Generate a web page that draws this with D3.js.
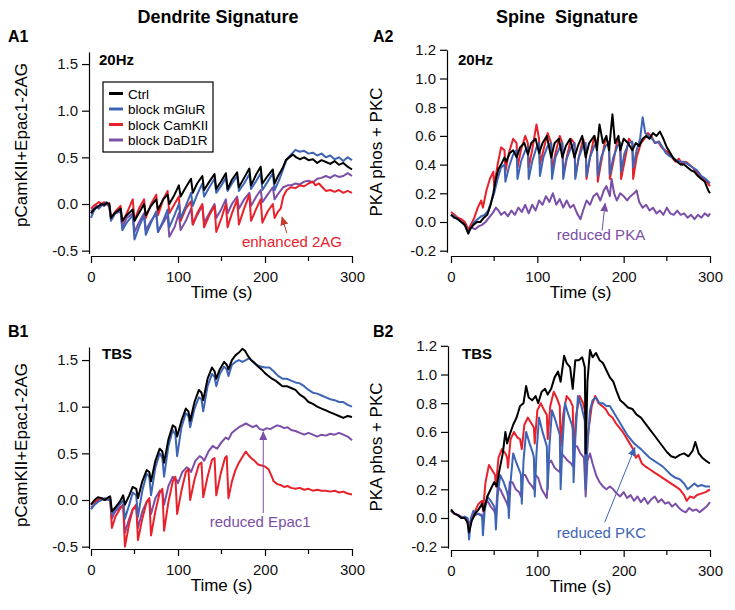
<!DOCTYPE html>
<html><head><meta charset="utf-8">
<script src="https://cdn.jsdelivr.net/npm/d3@7"></script>
<style>
body{margin:0;background:#fff}
svg text{font-family:"Liberation Sans",Arial,Helvetica,sans-serif}
</style>
</head><body>
<svg id="chart" width="735" height="610"></svg>
<script>
// ---------------- DATA ----------------
const seriesNames = ["Ctrl", "block mGluR", "block CamKII", "block DaD1R"];
const timeTicks = [0, 100, 200, 300];
const timeMinorTicks = [50, 150, 250];
const dendriteTicks = [-0.5, 0.0, 0.5, 1.0, 1.5];
const spineTicks = [-0.2, 0.0, 0.2, 0.4, 0.6, 0.8, 1.0, 1.2];

// A1: 20Hz dendrite signature  [time s, value]
const a1Ctrl = [[0,-0.1],[3,-0.06],[6,-0.04],[9,-0.02],[12,0.0],[15,-0.01],[18,0.01],[21,0.0],[23,-0.15],[27,-0.1],[34,-0.05],[36,-0.18],[41,-0.12],[48,-0.06],[50,-0.18],[55,-0.1],[61,0.0],[63,-0.12],[69,-0.02],[75,0.05],[77,-0.06],[83,0.05],[88,0.1],[90,0.0],[96,0.1],[101,0.2],[103,0.08],[109,0.18],[115,0.27],[117,0.12],[122,0.22],[128,0.3],[130,0.15],[136,0.24],[142,0.32],[144,0.16],[150,0.25],[155,0.33],[157,0.16],[162,0.26],[168,0.34],[170,0.18],[176,0.28],[182,0.38],[184,0.2],[190,0.32],[195,0.4],[197,0.22],[203,0.3],[209,0.37],[211,0.22],[215,0.3],[220,0.38],[224,0.47],[228,0.5],[232,0.53],[236,0.5],[240,0.48],[245,0.5],[250,0.47],[255,0.48],[260,0.44],[265,0.47],[270,0.45],[275,0.43],[280,0.46],[285,0.42],[290,0.44],[295,0.4],[300,0.37]];
const a1Mglur = [[0,-0.15],[3,-0.08],[6,-0.03],[9,-0.05],[12,-0.02],[15,0.0],[18,0.02],[21,-0.02],[23,-0.18],[28,-0.1],[34,-0.06],[36,-0.28],[41,-0.2],[48,-0.12],[50,-0.38],[55,-0.25],[61,-0.12],[63,-0.33],[69,-0.2],[75,-0.08],[77,-0.3],[83,-0.18],[88,-0.06],[90,-0.25],[96,-0.12],[101,0.0],[103,-0.15],[109,-0.02],[115,0.12],[117,-0.02],[122,0.1],[128,0.22],[130,0.08],[136,0.18],[142,0.27],[144,0.12],[150,0.2],[155,0.28],[157,0.14],[162,0.22],[168,0.3],[170,0.14],[176,0.22],[182,0.32],[184,0.16],[190,0.25],[195,0.33],[197,0.15],[203,0.24],[209,0.33],[211,0.15],[216,0.25],[221,0.38],[225,0.48],[230,0.53],[235,0.58],[240,0.56],[245,0.57],[250,0.54],[255,0.55],[260,0.52],[265,0.54],[270,0.5],[275,0.52],[280,0.48],[285,0.5],[290,0.46],[295,0.5],[300,0.47]];
const a1Camkii = [[0,-0.05],[3,-0.02],[6,0.0],[9,0.02],[12,0.0],[15,0.02],[18,0.0],[21,0.01],[23,-0.15],[28,-0.08],[34,-0.02],[36,-0.2],[41,-0.1],[48,0.05],[50,-0.18],[55,-0.05],[61,0.05],[63,-0.15],[69,0.0],[75,0.1],[77,-0.12],[83,0.05],[88,0.14],[90,-0.1],[96,0.0],[101,0.08],[103,-0.18],[109,-0.05],[115,0.03],[117,-0.22],[122,-0.1],[128,0.0],[130,-0.25],[136,-0.12],[142,-0.02],[144,-0.3],[150,-0.15],[155,0.0],[157,-0.25],[162,-0.1],[168,0.05],[170,-0.22],[176,-0.05],[182,0.1],[184,-0.18],[190,-0.05],[195,0.05],[197,-0.2],[203,-0.08],[209,0.0],[211,-0.15],[215,-0.08],[218,-0.05],[221,0.08],[225,0.15],[230,0.18],[235,0.17],[240,0.2],[245,0.19],[250,0.22],[255,0.24],[258,0.2],[262,0.22],[266,0.18],[270,0.14],[275,0.15],[280,0.13],[285,0.15],[290,0.12],[295,0.14],[300,0.12]];
const a1D1r = [[0,-0.08],[3,-0.05],[6,-0.02],[9,-0.04],[12,0.0],[15,-0.02],[18,0.0],[21,-0.03],[23,-0.15],[28,-0.1],[34,-0.08],[36,-0.25],[41,-0.15],[48,-0.1],[50,-0.3],[55,-0.2],[61,-0.1],[63,-0.28],[69,-0.18],[75,-0.1],[77,-0.3],[83,-0.2],[88,-0.12],[90,-0.35],[96,-0.25],[101,-0.1],[103,-0.28],[109,-0.18],[115,-0.05],[117,-0.22],[122,-0.12],[128,-0.02],[130,-0.2],[136,-0.1],[142,0.0],[144,-0.15],[150,-0.05],[155,0.05],[157,-0.1],[162,0.0],[168,0.08],[170,-0.05],[176,0.05],[182,0.12],[184,-0.02],[190,0.08],[195,0.15],[197,0.02],[203,0.1],[209,0.18],[211,0.05],[216,0.12],[221,0.18],[226,0.2],[230,0.2],[235,0.22],[240,0.21],[245,0.24],[250,0.25],[255,0.23],[260,0.27],[265,0.28],[270,0.3],[275,0.28],[280,0.31],[285,0.29],[290,0.3],[295,0.33],[300,0.3]];

// A2: 20Hz spine signature
const a2Ctrl = [[0,0.05],[4,0.03],[8,0.02],[12,0.0],[16,-0.02],[20,-0.08],[22,-0.05],[26,-0.02],[30,0.0],[34,0.0],[38,0.03],[42,0.05],[46,0.12],[49,0.2],[52,0.3],[55,0.37],[58,0.4],[62,0.45],[64,0.42],[68,0.48],[72,0.5],[76,0.45],[80,0.52],[85,0.55],[89,0.47],[93,0.55],[98,0.58],[102,0.48],[106,0.55],[111,0.6],[116,0.45],[120,0.55],[125,0.58],[129,0.45],[133,0.53],[138,0.58],[143,0.45],[147,0.53],[152,0.6],[156,0.45],[160,0.55],[166,0.6],[169,0.5],[172,0.68],[176,0.55],[180,0.6],[183,0.5],[187,0.75],[190,0.55],[194,0.6],[196,0.5],[200,0.58],[205,0.55],[210,0.5],[214,0.55],[218,0.53],[222,0.58],[226,0.6],[230,0.58],[234,0.62],[238,0.6],[242,0.63],[246,0.58],[250,0.52],[254,0.48],[258,0.44],[262,0.42],[266,0.4],[270,0.4],[274,0.38],[278,0.36],[282,0.35],[286,0.32],[290,0.3],[294,0.28],[298,0.22],[300,0.2]];
const a2Mglur = [[0,0.05],[4,0.04],[8,0.02],[12,0.0],[16,-0.02],[20,-0.08],[23,-0.04],[27,0.0],[31,0.02],[35,0.04],[39,0.05],[43,0.08],[47,0.15],[50,0.2],[54,0.3],[58,0.38],[62,0.4],[63,0.28],[67,0.38],[72,0.47],[76,0.5],[77,0.3],[81,0.42],[86,0.5],[89,0.52],[90,0.3],[94,0.42],[99,0.52],[102,0.55],[103,0.32],[107,0.45],[112,0.53],[116,0.55],[117,0.3],[121,0.45],[126,0.52],[129,0.55],[130,0.3],[134,0.44],[139,0.52],[143,0.55],[144,0.3],[148,0.45],[153,0.53],[156,0.55],[157,0.32],[161,0.45],[166,0.53],[169,0.55],[170,0.32],[174,0.45],[179,0.53],[183,0.55],[184,0.33],[188,0.45],[193,0.53],[196,0.55],[197,0.35],[201,0.48],[206,0.55],[210,0.56],[211,0.38],[215,0.5],[219,0.58],[222,0.73],[225,0.62],[229,0.6],[233,0.58],[237,0.55],[241,0.56],[245,0.52],[249,0.48],[253,0.46],[257,0.45],[261,0.43],[265,0.42],[270,0.42],[275,0.4],[280,0.38],[285,0.36],[290,0.32],[295,0.3],[300,0.27]];
const a2Camkii = [[0,0.07],[4,0.05],[8,0.03],[12,0.02],[16,0.0],[20,-0.05],[23,-0.02],[27,0.03],[31,0.1],[35,0.15],[37,0.1],[41,0.22],[45,0.3],[49,0.35],[50,0.25],[54,0.4],[58,0.52],[62,0.5],[63,0.35],[67,0.48],[72,0.58],[76,0.55],[77,0.38],[81,0.5],[86,0.6],[89,0.55],[90,0.38],[94,0.5],[99,0.68],[102,0.58],[103,0.4],[107,0.5],[112,0.62],[116,0.55],[117,0.35],[121,0.48],[126,0.6],[129,0.55],[130,0.33],[134,0.45],[139,0.58],[143,0.55],[144,0.32],[148,0.45],[153,0.58],[156,0.52],[157,0.3],[161,0.45],[166,0.6],[169,0.55],[170,0.28],[174,0.42],[179,0.58],[183,0.55],[184,0.3],[188,0.42],[193,0.58],[196,0.55],[197,0.3],[201,0.42],[206,0.58],[210,0.55],[211,0.3],[215,0.45],[220,0.55],[224,0.58],[228,0.62],[232,0.6],[236,0.55],[240,0.56],[244,0.52],[248,0.5],[252,0.48],[256,0.45],[260,0.42],[264,0.44],[268,0.4],[272,0.42],[276,0.4],[280,0.38],[284,0.35],[288,0.32],[292,0.3],[296,0.28],[300,0.25]];
const a2D1r = [[0,0.05],[4,0.03],[8,0.02],[12,0.0],[16,-0.02],[20,-0.05],[24,-0.04],[28,-0.05],[32,-0.03],[36,-0.02],[40,0.0],[44,0.03],[48,0.06],[52,0.1],[55,0.08],[58,0.05],[62,0.07],[66,0.04],[70,0.08],[74,0.05],[78,0.1],[82,0.07],[86,0.12],[90,0.06],[94,0.12],[98,0.08],[102,0.15],[106,0.12],[110,0.18],[114,0.14],[118,0.2],[122,0.12],[126,0.16],[130,0.1],[134,0.15],[138,0.1],[142,0.12],[146,0.06],[150,0.02],[153,0.08],[157,0.15],[161,0.12],[165,0.18],[169,0.2],[173,0.15],[177,0.22],[180,0.25],[184,0.18],[186,0.3],[189,0.2],[192,0.15],[196,0.2],[200,0.18],[204,0.15],[208,0.18],[212,0.2],[215,0.22],[218,0.14],[222,0.1],[226,0.12],[230,0.08],[234,0.1],[238,0.06],[242,0.08],[246,0.05],[250,0.1],[254,0.06],[258,0.05],[262,0.08],[266,0.05],[270,0.06],[274,0.03],[278,0.05],[282,0.02],[286,0.05],[290,0.03],[294,0.06],[298,0.04],[300,0.06]];

// B1: TBS dendrite signature
const b1Ctrl = [[0,-0.05],[4,0.0],[8,0.03],[12,0.02],[16,0.0],[20,0.03],[22,0.04],[24,-0.12],[28,-0.08],[33,-0.02],[37,0.05],[39,-0.05],[44,0.05],[48,0.14],[52,0.12],[54,0.02],[59,0.2],[64,0.32],[67,0.3],[69,0.2],[74,0.42],[79,0.55],[82,0.52],[84,0.4],[89,0.65],[94,0.8],[97,0.78],[99,0.68],[104,0.85],[109,0.98],[112,0.95],[114,0.85],[119,1.05],[124,1.18],[127,1.15],[129,1.07],[134,1.3],[139,1.42],[142,1.38],[144,1.3],[148,1.4],[153,1.48],[156,1.45],[158,1.4],[162,1.5],[166,1.55],[170,1.58],[174,1.62],[177,1.6],[180,1.55],[184,1.5],[188,1.47],[192,1.43],[196,1.4],[200,1.36],[204,1.33],[208,1.3],[212,1.28],[216,1.25],[220,1.22],[225,1.22],[230,1.2],[235,1.18],[240,1.13],[245,1.1],[250,1.05],[255,1.03],[260,1.0],[265,0.98],[270,0.96],[275,0.94],[280,0.92],[285,0.9],[290,0.88],[295,0.9],[300,0.89]];
const b1Mglur = [[0,-0.1],[4,-0.05],[8,-0.02],[12,0.0],[16,0.02],[20,0.0],[22,0.02],[24,-0.15],[28,-0.1],[33,-0.05],[37,0.0],[39,-0.2],[44,-0.05],[48,0.08],[52,0.05],[54,-0.18],[59,0.1],[64,0.28],[67,0.25],[69,0.05],[74,0.35],[79,0.5],[82,0.45],[84,0.25],[89,0.58],[94,0.75],[97,0.7],[99,0.47],[104,0.78],[109,0.93],[112,0.9],[114,0.78],[119,0.98],[124,1.1],[127,1.08],[129,0.95],[134,1.22],[139,1.35],[142,1.32],[144,1.22],[148,1.35],[153,1.43],[156,1.4],[158,1.33],[162,1.45],[166,1.48],[170,1.5],[174,1.48],[178,1.5],[182,1.52],[186,1.48],[190,1.45],[195,1.43],[200,1.42],[205,1.42],[210,1.38],[215,1.33],[220,1.3],[225,1.3],[230,1.28],[235,1.26],[240,1.25],[245,1.22],[250,1.18],[255,1.15],[260,1.14],[265,1.12],[270,1.1],[275,1.08],[280,1.07],[285,1.05],[290,1.05],[295,1.02],[300,1.0]];
const b1Camkii = [[0,-0.05],[4,-0.02],[8,0.0],[12,0.02],[16,0.0],[20,0.02],[22,0.03],[24,-0.3],[28,-0.18],[33,-0.1],[37,-0.05],[39,-0.5],[44,-0.25],[48,-0.1],[52,-0.05],[54,-0.43],[59,-0.2],[64,-0.02],[67,0.02],[69,-0.38],[74,-0.12],[79,0.08],[82,0.12],[84,-0.33],[89,-0.02],[94,0.2],[97,0.25],[99,-0.15],[104,0.1],[109,0.3],[112,0.33],[114,0.0],[119,0.22],[124,0.38],[127,0.4],[129,0.03],[134,0.25],[139,0.43],[142,0.45],[144,0.05],[149,0.28],[154,0.45],[156,0.47],[158,0.02],[162,0.2],[166,0.32],[170,0.4],[174,0.46],[178,0.52],[181,0.48],[184,0.45],[188,0.42],[192,0.38],[196,0.37],[200,0.36],[204,0.33],[207,0.27],[210,0.2],[214,0.17],[218,0.16],[222,0.14],[226,0.15],[230,0.13],[235,0.12],[240,0.13],[245,0.11],[250,0.12],[255,0.1],[260,0.11],[265,0.1],[270,0.1],[275,0.09],[280,0.1],[285,0.08],[290,0.09],[295,0.07],[300,0.06]];
const b1D1r = [[0,-0.08],[4,-0.05],[8,0.0],[12,0.02],[16,0.0],[20,0.02],[22,0.0],[24,-0.2],[28,-0.12],[33,-0.08],[37,-0.05],[39,-0.35],[44,-0.2],[48,-0.1],[52,-0.08],[54,-0.3],[59,-0.12],[64,-0.02],[67,0.0],[69,-0.15],[74,0.02],[79,0.1],[82,0.08],[84,-0.05],[89,0.15],[94,0.25],[98,0.22],[100,0.18],[105,0.3],[110,0.35],[113,0.33],[115,0.3],[120,0.42],[125,0.47],[128,0.45],[130,0.42],[135,0.52],[140,0.58],[143,0.56],[145,0.55],[150,0.62],[155,0.67],[158,0.65],[162,0.72],[166,0.75],[170,0.78],[174,0.8],[178,0.82],[182,0.8],[186,0.78],[190,0.8],[194,0.76],[198,0.75],[202,0.77],[206,0.76],[210,0.78],[214,0.8],[218,0.79],[222,0.77],[226,0.78],[230,0.75],[235,0.74],[240,0.72],[245,0.7],[250,0.72],[255,0.7],[260,0.68],[265,0.7],[270,0.69],[275,0.71],[280,0.7],[285,0.72],[290,0.7],[295,0.68],[300,0.64]];

// B2: TBS spine signature
const b2Ctrl = [[0,0.06],[4,0.03],[8,0.02],[12,0.0],[16,0.0],[19,-0.03],[21,-0.1],[24,-0.02],[28,0.03],[32,0.06],[36,0.1],[38,0.05],[42,0.15],[46,0.2],[50,0.25],[53,0.22],[56,0.33],[60,0.45],[63,0.6],[65,0.52],[68,0.58],[72,0.65],[76,0.7],[80,0.78],[84,0.8],[87,0.92],[90,0.84],[94,0.82],[98,0.85],[101,0.8],[105,0.88],[109,0.9],[112,0.86],[116,0.9],[120,0.98],[124,1.02],[127,0.95],[131,1.13],[134,1.08],[138,1.05],[141,0.9],[144,1.1],[148,1.1],[152,1.12],[155,1.05],[156,0.45],[158,0.95],[161,1.17],[164,1.12],[168,1.15],[172,1.1],[176,1.08],[180,1.03],[184,0.98],[188,0.95],[192,0.88],[196,0.82],[200,0.8],[205,0.77],[210,0.76],[215,0.72],[220,0.7],[225,0.66],[230,0.62],[235,0.58],[240,0.54],[245,0.5],[250,0.46],[255,0.43],[260,0.42],[265,0.44],[270,0.45],[275,0.43],[280,0.47],[283,0.53],[287,0.45],[291,0.42],[295,0.4],[300,0.38]];
const b2Mglur = [[0,0.05],[4,0.03],[8,0.02],[12,0.0],[16,0.01],[19,0.0],[21,-0.15],[23,0.0],[26,0.05],[30,0.03],[34,0.02],[36,0.01],[37,-0.12],[39,0.05],[42,0.15],[46,0.12],[50,0.08],[51,0.06],[52,-0.08],[54,0.15],[57,0.3],[61,0.25],[65,0.18],[66,0.15],[67,0.0],[69,0.25],[72,0.45],[76,0.38],[80,0.32],[81,0.3],[82,0.1],[84,0.4],[87,0.6],[91,0.52],[95,0.45],[96,0.42],[97,0.15],[99,0.45],[102,0.7],[106,0.6],[110,0.52],[111,0.5],[112,0.2],[114,0.5],[117,0.75],[121,0.68],[125,0.6],[126,0.58],[127,0.2],[129,0.5],[132,0.8],[136,0.72],[140,0.65],[141,0.62],[142,0.25],[144,0.55],[147,0.85],[151,0.78],[154,0.7],[155,0.68],[156,0.2],[158,0.5],[161,0.75],[164,0.82],[168,0.84],[172,0.8],[176,0.8],[180,0.78],[184,0.78],[188,0.74],[192,0.7],[196,0.66],[200,0.62],[204,0.58],[208,0.55],[212,0.52],[216,0.5],[220,0.48],[225,0.45],[230,0.42],[235,0.4],[240,0.38],[245,0.36],[250,0.33],[255,0.3],[260,0.28],[265,0.27],[270,0.24],[274,0.2],[278,0.22],[282,0.24],[286,0.22],[290,0.23],[295,0.22],[300,0.22]];
const b2Camkii = [[0,0.05],[4,0.03],[8,0.02],[12,0.0],[16,0.0],[19,-0.02],[21,-0.08],[24,0.0],[28,0.05],[32,0.1],[36,0.12],[37,0.05],[40,0.25],[44,0.37],[48,0.33],[51,0.3],[52,0.22],[55,0.42],[59,0.48],[63,0.45],[65,0.42],[66,0.35],[69,0.55],[73,0.6],[77,0.56],[80,0.55],[82,0.48],[85,0.65],[89,0.7],[93,0.66],[96,0.63],[97,0.52],[100,0.75],[104,0.8],[108,0.75],[111,0.72],[112,0.55],[115,0.78],[119,0.88],[123,0.83],[126,0.78],[127,0.5],[130,0.72],[134,0.85],[138,0.82],[141,0.78],[142,0.45],[145,0.72],[149,0.85],[153,0.8],[155,0.75],[156,0.3],[159,0.6],[163,0.78],[167,0.85],[171,0.8],[175,0.78],[179,0.76],[183,0.72],[187,0.7],[191,0.66],[195,0.63],[199,0.6],[203,0.56],[207,0.52],[211,0.48],[214,0.42],[217,0.44],[221,0.38],[225,0.36],[230,0.34],[235,0.32],[240,0.3],[245,0.28],[250,0.26],[255,0.24],[260,0.22],[265,0.2],[270,0.16],[273,0.12],[277,0.15],[281,0.14],[285,0.16],[290,0.17],[295,0.18],[300,0.2]];
const b2D1r = [[0,0.05],[4,0.03],[8,0.02],[12,0.01],[16,0.0],[19,0.0],[21,-0.05],[24,0.0],[28,0.02],[32,0.03],[36,0.02],[37,-0.02],[39,0.1],[42,0.12],[46,0.08],[50,0.05],[52,0.02],[54,0.22],[57,0.2],[61,0.15],[65,0.1],[66,0.08],[68,0.25],[71,0.25],[75,0.2],[79,0.18],[81,0.15],[83,0.3],[86,0.3],[90,0.25],[94,0.22],[96,0.2],[98,0.3],[101,0.28],[105,0.2],[109,0.16],[111,0.14],[113,0.38],[116,0.4],[120,0.35],[124,0.33],[126,0.32],[128,0.45],[131,0.43],[135,0.4],[139,0.38],[141,0.36],[143,0.5],[146,0.5],[150,0.45],[154,0.42],[156,0.15],[158,0.4],[161,0.45],[164,0.38],[168,0.3],[172,0.25],[176,0.22],[180,0.2],[184,0.22],[188,0.2],[192,0.17],[196,0.15],[200,0.18],[204,0.14],[208,0.16],[212,0.12],[216,0.15],[220,0.11],[224,0.14],[228,0.1],[232,0.13],[236,0.15],[240,0.11],[244,0.13],[248,0.1],[252,0.11],[256,0.08],[260,0.1],[264,0.07],[268,0.05],[272,0.04],[276,0.07],[280,0.05],[284,0.06],[288,0.04],[292,0.06],[296,0.08],[300,0.11]];

// ---------------- STYLE / LAYOUT ----------------
const colors = {ctrl:"#000000", mglur:"#3e64b6", camkii:"#e8212b", d1r:"#7b4ea7"};
const svg = d3.select("#chart");
const FONT = "'Liberation Sans', Arial, sans-serif";

svg.append("text").attr("x",218).attr("y",23).attr("text-anchor","middle")
  .attr("font-size",18).attr("font-weight","bold").text("Dendrite Signature");
svg.append("text").attr("x",567).attr("y",23).attr("text-anchor","middle")
  .attr("font-size",18).attr("font-weight","bold").style("white-space","pre").text("Spine  Signature");

const panels = [
  {id:"A1", stim:"20Hz", x0:91, x1:352, xAxisY:256, yAxisX:89, zeroY:204, unit:93.3, ybot:-0.53, ytop:1.63, ticks:dendriteTicks,
   ylabel:"pCamKII+Epac1-2AG", ylabX:27, ylabY:145, labX:8, labY:42, stimX:99, stimY:65,
   series:{d1r:a1D1r, camkii:a1Camkii, mglur:a1Mglur, ctrl:a1Ctrl},
   note:{text:"enhanced 2AG", color:colors.camkii, arrowColor:"#c0392b", tx:173.5, ty:-0.465, from:[225,-0.31], to:[219.5,-0.14]}},
  {id:"A2", stim:"20Hz", x0:451, x1:710, xAxisY:256, yAxisX:447, zeroY:222, unit:143.5, ybot:-0.21, ytop:1.2, ticks:spineTicks,
   ylabel:"PKA phos + PKC", ylabX:382, ylabY:152, labX:373, labY:42, stimX:458, stimY:65,
   series:{d1r:a2D1r, camkii:a2Camkii, mglur:a2Mglur, ctrl:a2Ctrl},
   note:{text:"reduced PKA", color:colors.d1r, arrowColor:colors.d1r, tx:122.5, ty:-0.125, from:[175,-0.06], to:[178.5,0.13]}},
  {id:"B1", stim:"TBS", x0:91, x1:352, xAxisY:549, yAxisX:89, zeroY:500, unit:93.3, ybot:-0.52, ytop:1.64, ticks:dendriteTicks,
   ylabel:"pCamKII+Epac1-2AG", ylabX:27, ylabY:445, labX:8, labY:337, stimX:102, stimY:359,
   series:{d1r:b1D1r, camkii:b1Camkii, mglur:b1Mglur, ctrl:b1Ctrl},
   note:{text:"reduced Epac1", color:colors.d1r, arrowColor:colors.d1r, tx:136.5, ty:-0.29, from:[198,-0.14], to:[198,0.73]}},
  {id:"B2", stim:"TBS", x0:451, x1:710, xAxisY:550, yAxisX:448, zeroY:518, unit:143.5, ybot:-0.21, ytop:1.2, ticks:spineTicks,
   ylabel:"PKA phos + PKC", ylabX:382, ylabY:447, labX:373, labY:337, stimX:462, stimY:359,
   series:{d1r:b2D1r, camkii:b2Camkii, mglur:b2Mglur, ctrl:b2Ctrl},
   note:{text:"reduced PKC", color:colors.mglur, arrowColor:colors.mglur, tx:122.5, ty:-0.14, from:[178,-0.03], to:[213,0.49]}}
];

const defs = svg.append("defs");
function marker(id, color){
  defs.append("marker").attr("id",id).attr("viewBox","0 0 10 10").attr("refX",9).attr("refY",5)
    .attr("markerWidth",9).attr("markerHeight",8).attr("markerUnits","userSpaceOnUse")
    .attr("orient","auto").attr("preserveAspectRatio","none")
    .append("path").attr("d","M0,0 L10,5 L0,10 z").attr("fill",color);
}

panels.forEach((p,i) => {
  const g = svg.append("g");
  const x = d3.scaleLinear().domain([0,300]).range([p.x0,p.x1]);
  const y = d3.scaleLinear().domain([p.ybot,p.ytop]).range([p.zeroY - p.ybot*p.unit, p.zeroY - p.ytop*p.unit]);

  // traces
  const line = d3.line().x(d=>x(d[0])).y(d=>y(d[1]));
  ["d1r","camkii","mglur","ctrl"].forEach(k => {
    g.append("path").datum(p.series[k]).attr("d",line).attr("fill","none")
      .attr("stroke",colors[k]).attr("stroke-width",2).attr("stroke-linejoin","round");
  });

  // y axis
  const ya = g.append("g").attr("transform",`translate(${p.yAxisX},0)`)
    .call(d3.axisLeft(y).tickValues(p.ticks).tickSize(7).tickSizeOuter(0).tickPadding(4).tickFormat(v=>v.toFixed(1)));
  // x axis
  const xa = g.append("g").attr("transform",`translate(0,${p.xAxisY})`)
    .call(d3.axisBottom(x).tickValues(timeTicks).tickSize(7).tickSizeOuter(0).tickPadding(8).tickFormat(d3.format("d")));
  xa.selectAll(".minor").data(timeMinorTicks).enter().append("line").attr("class","minor")
    .attr("x1",d=>x(d)).attr("x2",d=>x(d)).attr("y1",0).attr("y2",5).attr("stroke","#000").attr("stroke-width",1.2);
  [ya,xa].forEach(a=>{
    a.selectAll("path,line").attr("stroke","#000").attr("stroke-width",1.2);
    a.selectAll("text").attr("font-size",15).attr("font-family",FONT).attr("fill","#111");
  });

  // axis titles
  g.append("text").attr("x",(p.x0+p.x1)/2).attr("y",p.xAxisY+42).attr("text-anchor","middle")
    .attr("font-size",17).text("Time (s)");
  g.append("text").attr("transform",`translate(${p.ylabX},${p.ylabY}) rotate(-90)`).attr("text-anchor","middle")
    .attr("font-size",17).text(p.ylabel);

  // panel label and stimulus label
  g.append("text").attr("x",p.labX).attr("y",p.labY).attr("font-size",16).attr("font-weight","bold").text(p.id);
  g.append("text").attr("x",p.stimX).attr("y",p.stimY).attr("font-size",15).attr("font-weight","bold").text(p.stim);

  // annotation
  const mid = "arrow"+i;
  marker(mid, p.note.arrowColor);
  g.append("line").attr("x1",x(p.note.from[0])).attr("y1",y(p.note.from[1]))
    .attr("x2",x(p.note.to[0])).attr("y2",y(p.note.to[1]))
    .attr("stroke",p.note.arrowColor).attr("stroke-width",1).attr("marker-end",`url(#${mid})`);
  g.append("text").attr("x",x(p.note.tx)).attr("y",y(p.note.ty)).attr("font-size",15)
    .attr("fill",p.note.color).text(p.note.text);

  // legend (A1 only)
  if (p.id === "A1") {
    const lg = g.append("g");
    lg.append("rect").attr("x",103).attr("y",82).attr("width",110).attr("height",70)
      .attr("fill","#fff").attr("stroke","#000").attr("stroke-width",1.2);
    const keys = ["ctrl","mglur","camkii","d1r"];
    keys.forEach((k,j)=>{
      const yy = 93.5 + j*15.5;
      lg.append("line").attr("x1",109).attr("x2",123).attr("y1",yy).attr("y2",yy)
        .attr("stroke",colors[k]).attr("stroke-width",3);
      lg.append("text").attr("x",128).attr("y",yy+5).attr("font-size",13.5).text(seriesNames[j]);
    });
  }
});
</script>
</body></html>
